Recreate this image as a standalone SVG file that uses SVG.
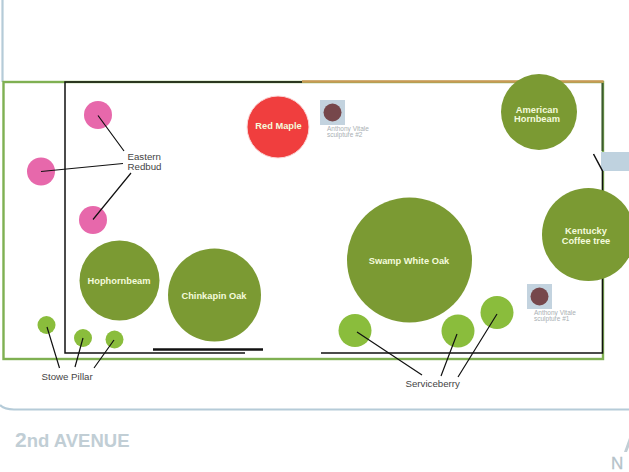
<svg xmlns="http://www.w3.org/2000/svg" width="629" height="472" viewBox="0 0 629 472">
<style>
text{font-family:"Liberation Sans",Arial,sans-serif}
.tree{fill:#7b9a33}
.sb{fill:#8abd3c}
.rb{fill:#e768ab}
.wt{fill:#f4fbdc;font-weight:700;font-size:9.300px;text-anchor:middle}
.lb{fill:#444;font-size:9.700px}
.sc{fill:#a9afb3;font-size:6.500px}
.sq{fill:#c3d3df}
.st{fill:#76474b}
.ln{stroke:#111;stroke-width:1.2;fill:none}
.w{stroke:#111;stroke-width:1.5;fill:none}
</style>
<rect width="629" height="472" fill="#fff"/>
<g id="site">
<path d="M2.5 0V82M0 405Q4 409.500 14 409.500H629" fill="none" stroke="#b5cbd8" stroke-width="2.200"/>
<rect x="3.500" y="82" width="599.500" height="277" fill="none" stroke="#7fb052" stroke-width="2.400"/>
<path d="M302 81.500H603.500" stroke="#c99a55" stroke-width="2.600" fill="none"/>
<rect x="601" y="152" width="28" height="19" fill="#bfd2df"/>
<path class="w" d="M302 82H65V353H245"/>
<path d="M153 349.500H263" stroke="#111" stroke-width="2.600" fill="none"/>
<path class="w" d="M321 353H602.500V171L593.500 154"/>
<path d="M602.500 83V151" stroke="#3d5a30" stroke-width="2" fill="none"/>
<text x="15" y="447" font-size="21" font-weight="700" fill="#c1ced5">2<tspan font-size="18.500">nd AVENUE</tspan></text>
<text x="611" y="469" font-size="17" fill="#b5c2c9" stroke="#b5c2c9" stroke-width="0.300">N</text>
<path d="M629 438L624 452H627L629 447Z" fill="#c1ced5"/>
</g>
<g id="tree-red-maple"><circle cx="278" cy="127" r="31" fill="#f03e3e" stroke="#fbd8d8" stroke-width="1"/><text class="wt" x="278.500" y="128.500">Red Maple</text></g>
<g id="tree-american-hornbeam"><circle class="tree" cx="539" cy="112" r="38"/><text class="wt" x="537" y="112.500">American<tspan x="537" dy="9.500">Hornbeam</tspan></text></g>
<g id="tree-kentucky-coffee"><circle class="tree" cx="588.500" cy="234.500" r="46.500"/><text class="wt" x="586" y="234">Kentucky<tspan x="586" dy="9.500">Coffee tree</tspan></text></g>
<g id="tree-swamp-white-oak"><circle class="tree" cx="409.500" cy="260" r="62.500"/><text class="wt" x="409" y="264">Swamp White Oak</text></g>
<g id="tree-hophornbeam"><circle class="tree" cx="119.500" cy="280.500" r="40"/><text class="wt" x="119" y="284">Hophornbeam</text></g>
<g id="tree-chinkapin-oak"><circle class="tree" cx="214.500" cy="295" r="46.500"/><text class="wt" x="214" y="298.500">Chinkapin Oak</text></g>
<g id="eastern-redbud"><circle class="rb" cx="98" cy="115" r="14"/><circle class="rb" cx="41" cy="171.500" r="14"/><circle class="rb" cx="93" cy="220" r="14"/><text class="lb" x="127.500" y="160">Eastern<tspan x="127.500" dy="9.500">Redbud</tspan></text></g>
<g id="stowe-pillar"><circle class="sb" cx="46.500" cy="325" r="9"/><circle class="sb" cx="83" cy="338" r="9"/><circle class="sb" cx="114.500" cy="339.500" r="9"/><text class="lb" x="41.500" y="380">Stowe Pillar</text></g>
<g id="serviceberry"><circle class="sb" cx="355" cy="330.500" r="16.500"/><circle class="sb" cx="458" cy="331" r="16.500"/><circle class="sb" cx="497" cy="312.500" r="16.500"/><text class="lb" x="405.500" y="387">Serviceberry</text></g>
<g id="sculpture-2"><rect class="sq" x="320" y="100" width="25" height="25"/><circle class="st" cx="332.500" cy="112.500" r="9"/><text class="sc" x="327" y="131">Anthony Vitale<tspan x="327" dy="6">sculpture #2</tspan></text></g>
<g id="sculpture-1"><rect class="sq" x="527" y="284" width="25" height="25"/><circle class="st" cx="539.500" cy="296.500" r="9"/><text class="sc" x="534" y="314.500">Anthony Vitale<tspan x="534" dy="6">sculpture #1</tspan></text></g>
<g id="connectors">
<path class="ln" d="M98 115.500L124 151M41 171.500L123 163.500M93 219.500L131 173"/>
<path class="ln" d="M47 327L59.500 368M83 338L75 367M114 340L94 368"/>
<path class="ln" d="M357 332L422 375M457 334L441 376M497 314L458 377"/>
</g>
</svg>
